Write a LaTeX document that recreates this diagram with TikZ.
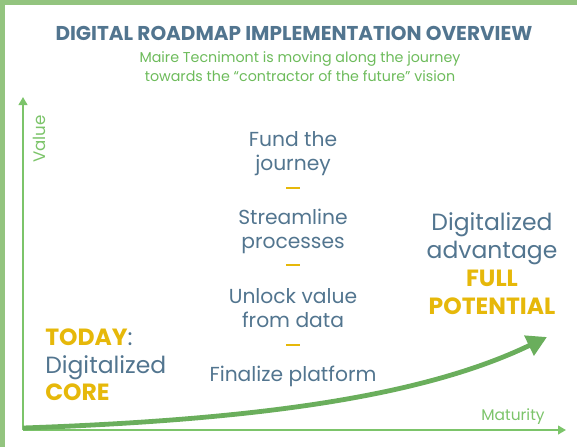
\documentclass[tikz,border=0pt]{standalone}
\usepackage{fontspec}
\setmainfont{Poppins}
\usepackage{xcolor}
\usetikzlibrary{arrows.meta,positioning}
\definecolor{slate}{HTML}{52758F}
\definecolor{leafgreen}{HTML}{6DBB5B}
\definecolor{axisgreen}{HTML}{7CC46A}
\definecolor{curvegreen}{HTML}{6AAE5C}
\definecolor{bandgreen}{HTML}{93C47F}
\definecolor{gold}{HTML}{E6B80A}
\tikzstyle{axis} = [draw=axisgreen, line width=1.5pt, -{Triangle[length=6pt,width=6.5pt]}]
\tikzstyle{growth} = [draw=curvegreen, line width=3.6pt, -{Triangle[length=15pt,width=16pt]}]
\tikzstyle{steptext} = [text=slate, align=center, inner sep=0pt, font=\fontsize{15.2}{18}\selectfont]
\tikzstyle{sidetext} = [align=center, inner sep=0pt, font=\fontsize{17.6}{21}\selectfont]
\tikzstyle{sep} = [fill=gold, minimum width=10pt, minimum height=1.3pt, inner sep=0pt]

\begin{document}
\begin{tikzpicture}[x=0.75pt, y=-0.75pt]
    \useasboundingbox (0,0) rectangle (577,447);
    % Frame bands
    \fill[bandgreen] (0,0) rectangle (577,5);
    \fill[bandgreen] (0,0) rectangle (4.5,447);

    % Heading
    \node[text=slate, font=\bfseries\fontsize{15}{18}\selectfont] (title) at (294,33) {DIGITAL ROADMAP IMPLEMENTATION OVERVIEW};
    \node[text=leafgreen, align=center, font=\fontsize{10.7}{14.3}\selectfont] (subtitle) at (300,67)
        {Maire Tecnimont is moving along the journey\\towards the ``contractor of the future'' vision};

    % Axes
    \coordinate (origin) at (23,430);
    \coordinate (ytop) at (23,97);
    \coordinate (xend) at (566,430);
    \draw[axis] (origin) -- (ytop);
    \draw[axis] (origin) -- (xend);
    \node[text=axisgreen, rotate=90, font=\fontsize{12.5}{14}\selectfont] (value) at (39,139) {Value};
    \node[text=axisgreen, font=\fontsize{11.6}{13}\selectfont] (maturity) at (513,417) {Maturity};

    % Steps
    \node[steptext] (fund) at (293,154) {Fund the\\journey};
    \node[sep] (sep1) at (293,188) {};
    \node[steptext] (stream) at (293,231) {Streamline\\processes};
    \node[sep] (sep2) at (293,265) {};
    \node[steptext] (unlock) at (293,308) {Unlock value\\from data};
    \node[sep] (sep3) at (293,345) {};
    \node[steptext] (platform) at (293,376) {Finalize platform};

    % Start and goal
    \node[sidetext, align=left, anchor=west, font=\fontsize{17.6}{20.5}\selectfont] (today) at (45,365)
        {\textcolor{gold}{\bfseries TODAY}\textcolor{slate}{:}\\\textcolor{slate}{Digitalized}\\\textcolor{gold}{\bfseries CORE}};
    \node[sidetext] (goal) at (492,264)
        {\textcolor{slate}{Digitalized}\\\textcolor{slate}{advantage}\\\textcolor{gold}{\bfseries FULL}\\\textcolor{gold}{\bfseries POTENTIAL}};

    % Growth curve
    \coordinate (curvestart) at (23,428);
    \coordinate (curveend) at (547,337);
    \draw[growth] (curvestart) .. controls (250,420) and (420,398) .. (curveend);
\end{tikzpicture}
\end{document}
